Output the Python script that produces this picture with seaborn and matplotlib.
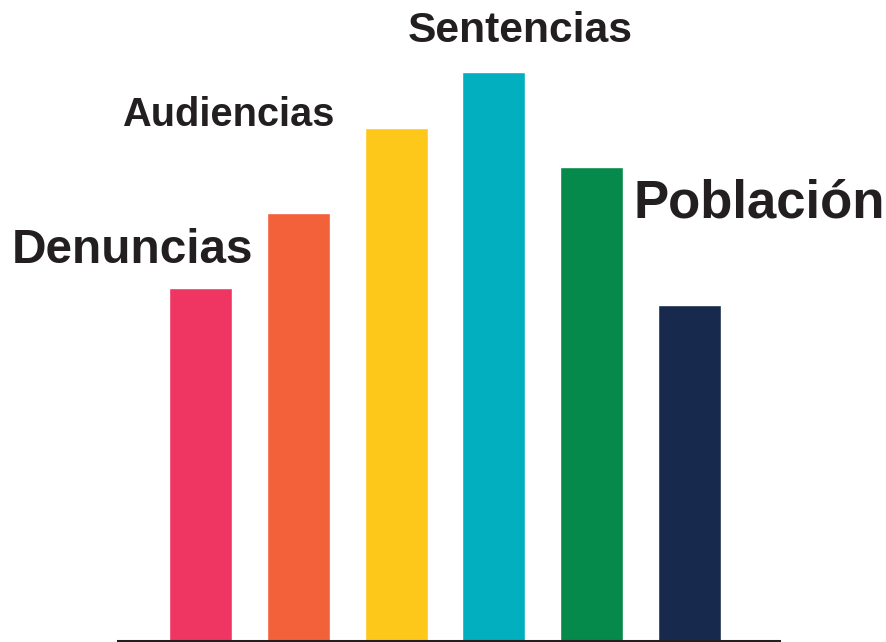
import matplotlib
matplotlib.use("Agg")
import matplotlib.pyplot as plt
import seaborn as sns

# relative bar heights (pixels above the baseline)
categories = ['Denuncias', 'Audiencias', 'Sentencias', 'Fase4', 'Fase5', 'Población']
values = [353, 428, 513, 569, 474, 336]
colors = ['#EF3663', '#F2613A', '#FDC819', '#02AFBF', '#068A4C', '#172A4E']

# labels drawn as free text (label, left px, baseline px, size pt)
labels = ['Denuncias', 'Audiencias', 'Sentencias', 'Población']
label_pos = [(12, 263, 34.4), (122, 126, 28.6), (408, 42, 30.7), (634, 218, 38)]

W, H = 887, 642
TEXT = '#231F20'

sns.set_style("white")
plt.rcParams['font.family'] = ['Liberation Sans', 'DejaVu Sans']

fig = plt.figure(figsize=(W / 100, H / 100), dpi=100)
ax = fig.add_axes([118 / W, 1.5 / H, 661 / W, 638.5 / H])

sns.barplot(x=categories, y=values, hue=categories, palette=colors, legend=False,
            width=0.645, saturation=1, ax=ax)

unit = 97.8
ax.set_xlim(-(200.5 - 118) / unit, 5 + (779 - 689.5) / unit)
ax.set_ylim(0, 638.5)

for side in ['top', 'right', 'left']:
    ax.spines[side].set_visible(False)
ax.spines['bottom'].set_linewidth(2.2)
ax.spines['bottom'].set_color(TEXT)
ax.set_xticks([])
ax.set_yticks([])
ax.set_xlabel('')
ax.set_ylabel('')
ax.patch.set_alpha(0)

for text, (px, py, size) in zip(labels, label_pos):
    fig.text(px / W, 1 - py / H, text, ha='left', va='baseline',
             fontsize=size, fontweight='bold', color=TEXT)

fig.savefig('out.png', dpi=100)
plt.close(fig)
